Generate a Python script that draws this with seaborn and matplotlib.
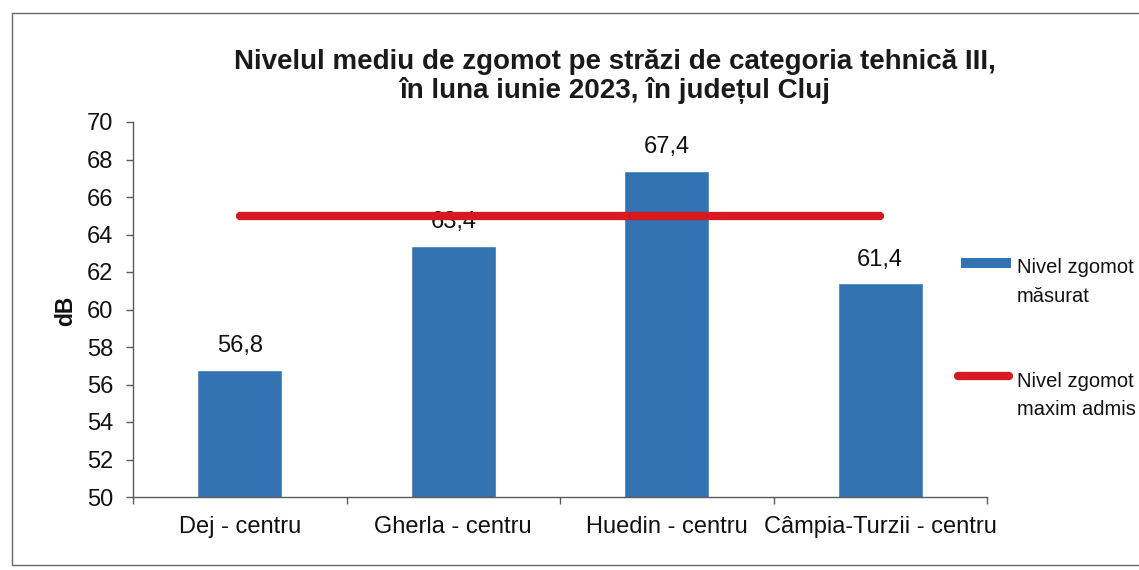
import numpy as np
import matplotlib
matplotlib.use("Agg")
import matplotlib.pyplot as plt
from matplotlib.patches import Rectangle
from matplotlib.lines import Line2D
import seaborn as sns

# Noise level data (dB) per street
categories = ["Dej - centru", "Gherla - centru", "Huedin - centru", "Câmpia-Turzii - centru"]
measured = [56.8, 63.4, 67.4, 61.4]
max_allowed = [65, 65, 65, 65]
y_ticks = [50, 52, 54, 56, 58, 60, 62, 64, 66, 68, 70]
legend_labels = [["Nivel zgomot", "măsurat"], ["Nivel zgomot", "maxim admis"]]
title_lines = ["Nivelul mediu de zgomot pe străzi de categoria tehnică III,",
               "în luna iunie 2023, în județul Cluj"]

BLUE = "#3473b2"
RED = "#d71920"
AXIS = "#5a5a5a"
TXT = "#111111"

sns.set_theme(style="white")
plt.rcParams["font.family"] = ["Liberation Sans", "DejaVu Sans"]

W, H = 1139, 570
fig = plt.figure(figsize=(W / 100, H / 100), dpi=100)
fig.patch.set_facecolor("white")
ax = fig.add_axes([133 / W, 1 - 497 / H, (987 - 133) / W, (497 - 122) / H])


def fx(px):
    return px / W


def fy(py):
    return 1 - py / H


sns.barplot(x=categories, y=measured, color=BLUE, saturation=1, width=0.4, ax=ax)
ax.plot(np.arange(len(categories)), max_allowed, color=RED, lw=6,
        solid_capstyle="round", zorder=4)

ax.set_xlim(-0.5, len(categories) - 0.5)
ax.set_ylim(50, 70)
ax.set_yticks(y_ticks)
ax.set_yticklabels([str(v) for v in y_ticks])
ax.set_xlabel("")
ax.set_ylabel("dB", fontsize=16.5, fontweight="bold", color=TXT)
ax.yaxis.set_label_coords((77 - 133) / (987 - 133), (497 - 311) / (497 - 122))

# value labels with decimal comma
ax.bar_label(ax.containers[0], labels=[f"{v:.1f}".replace(".", ",") for v in measured],
             padding=9, fontsize=17, color=TXT)

for side in ["top", "right"]:
    ax.spines[side].set_visible(False)
for side in ["left", "bottom"]:
    ax.spines[side].set_color(AXIS)
    ax.spines[side].set_linewidth(1.0)

ax.tick_params(axis="y", which="major", direction="out", length=5, width=1,
               color=AXIS, labelsize=17, pad=9, labelcolor=TXT, left=True)
ax.set_xticks(np.arange(len(categories)))
ax.set_xticklabels(categories)
ax.tick_params(axis="x", which="major", length=0, labelsize=17, pad=14,
               labelcolor=TXT)
ax.set_xticks(np.arange(-0.5, len(categories)), minor=True)
ax.tick_params(axis="x", which="minor", direction="out", length=5, width=1,
               color=AXIS, bottom=True)
ax.grid(False)

# two-line bold title
for line, base in zip(title_lines, [69, 98]):
    fig.text(fx(615), fy(base), line, ha="center", va="baseline", fontsize=20,
             fontweight="bold", color="#1a1a1a")

# legend on the right, handle aligned with the first label line
fig.add_artist(Rectangle((fx(961), fy(268)), (1011 - 961) / W, 10 / H,
                         transform=fig.transFigure, facecolor=BLUE, edgecolor="none"))
fig.add_artist(Line2D([fx(958), fx(1009)], [fy(376), fy(376)], transform=fig.transFigure,
                      color=RED, lw=6, solid_capstyle="round"))
for lines, bases in zip(legend_labels, [(273, 302), (387, 415)]):
    for txt, b in zip(lines, bases):
        fig.text(fx(1017), fy(b), txt, ha="left", va="baseline", fontsize=14.5, color=TXT)

# outer chart-area frame
fig.add_artist(Rectangle((fx(12), fy(565)), 1.2, (565 - 13) / H,
                         transform=fig.transFigure, fill=False,
                         edgecolor="#6a6a6a", lw=1.0))

fig.savefig("out.png", dpi=100)
